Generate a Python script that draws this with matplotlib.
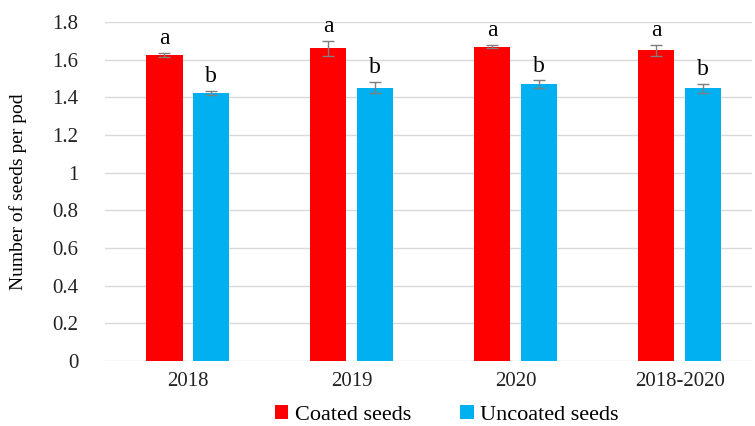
import matplotlib.pyplot as plt
import numpy as np

years = ['2018', '2019', '2020', '2018-2020']
coated = [1.625, 1.662, 1.670, 1.650]
coated_err = [0.010, 0.040, 0.010, 0.030]
uncoated = [1.423, 1.452, 1.471, 1.448]
uncoated_err = [0.012, 0.030, 0.020, 0.025]
coated_lbl = ['a', 'a', 'a', 'a']
uncoated_lbl = ['b', 'b', 'b', 'b']

plt.rcParams['font.family'] = 'serif'
plt.rcParams['font.serif'] = ['Liberation Serif', 'DejaVu Serif']

fig = plt.figure(figsize=(7.55, 4.26), dpi=100)
ax = fig.add_axes([0.139, 0.153, 0.857, 0.795])

x = np.arange(len(years))
w = 0.22
off = 0.143
ekw = dict(ecolor='#7f7f7f', elinewidth=1, capsize=4, capthick=1)
ax.bar(x - off, coated, w, yerr=coated_err, color='#ff0000', label='Coated seeds', error_kw=ekw, zorder=2)
ax.bar(x + off, uncoated, w, yerr=uncoated_err, color='#00b0f0', label='Uncoated seeds', error_kw=ekw, zorder=2)

for i in range(len(years)):
    ax.text(x[i] - off, coated[i] + coated_err[i] + 0.02, coated_lbl[i], ha='center', va='bottom', fontsize=17)
    ax.text(x[i] + off, uncoated[i] + uncoated_err[i] + 0.02, uncoated_lbl[i], ha='center', va='bottom', fontsize=17)

ax.set_xlim(-0.506, 3.44)
ax.set_ylim(0, 1.8)
ax.set_yticks(np.arange(0, 1.81, 0.2))
ax.set_yticklabels(['0', '0.2', '0.4', '0.6', '0.8', '1', '1.2', '1.4', '1.6', '1.8'])
ax.set_xticks(x)
ax.set_xticklabels(years)
ax.tick_params(axis='both', length=0, labelsize=15, colors='#222222')
ax.tick_params(axis='y', pad=19)
ax.tick_params(axis='x', pad=8)
ax.yaxis.grid(True, color='#d9d9d9', linewidth=1, zorder=0)
ax.set_axisbelow(True)
for s in ax.spines.values():
    s.set_visible(False)
ax.set_ylabel('Number of seeds per pod', fontsize=14, labelpad=18)

fig.legend(loc='lower center', bbox_to_anchor=(0.592, -0.045), ncol=2, frameon=False, fontsize=16,
           handlelength=0.6, handleheight=0.6, handletextpad=0.3, columnspacing=2.2)

fig.savefig('out.png')
